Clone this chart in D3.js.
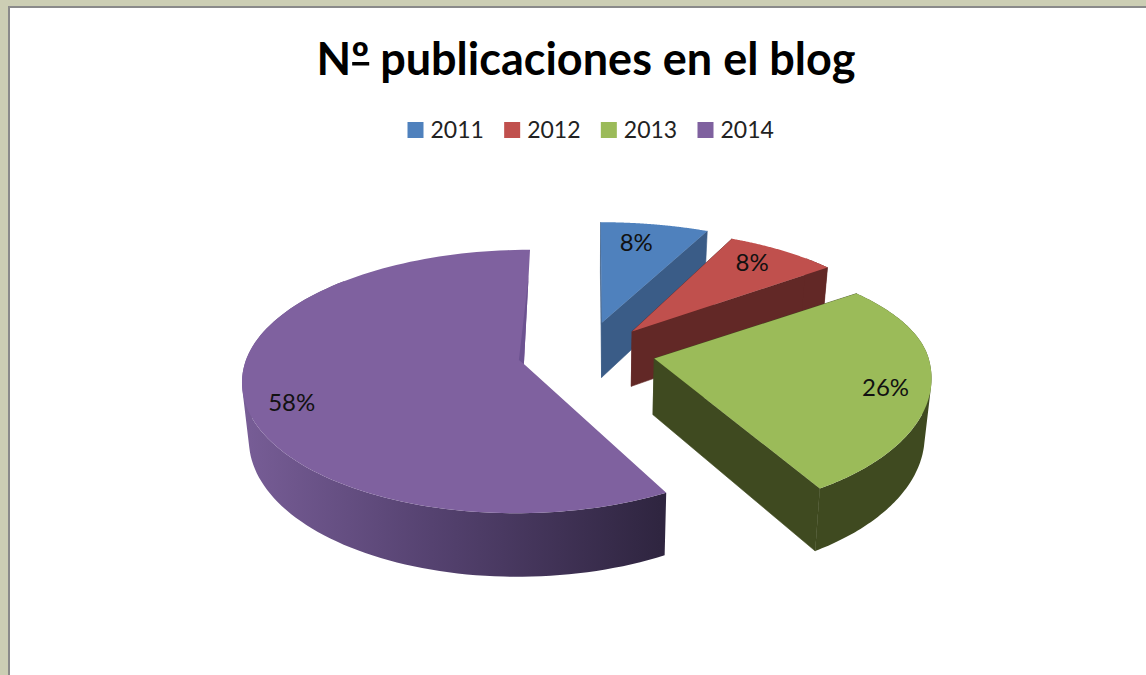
<!DOCTYPE html>
<html>
<head>
<meta charset="utf-8">
<script src="https://cdn.jsdelivr.net/npm/d3@7"></script>
<style>
html, body { margin: 0; padding: 0; background: #ccceb4; overflow: hidden; }
text { font-family: Lato, "Open Sans", sans-serif; }
</style>
</head>
<body>
<script>
//values (angular share of each slice, percent)
var years = ["2011", "2012", "2013", "2014"];
var shares = [7.0, 7.6, 26.7, 58.7];
var percentLabels = ["8%", "8%", "26%", "58%"];
var topColors = ["#4f81bd", "#c0504d", "#9bbb59", "#7f619f"];
var sideColors = ["#3a5c87", "#622826", "#3f4a20", "#33283f"];

//specs of svg
var w = 1146;
var h = 675;

//perspective pie set up
var cx = 590, cy = 360;
var R = 283, flat = 128.7 / 283, persp = 0.11;
var rimHeight = 56, rimShrink = 0.98;
var explode = 0.23;
//small corrections of each exploded slice, the original is not a true circle
var nudgeX = [-2, 2, 0, -3];
var nudgeY = [-9, -6, -7, -4];
var radiusX = [0.985, 0.95, 0.965, 0.98];
var radiusBack = [0.9, 0.9, 0.87, 0.97];
var radiusFront = [1, 1, 1.055, 1.015];
var startTrim = [0, 0, 0, 0.044];
var labelRadius = [0.72, 0.78, 0.81, 0.82];
var labelShift = [-5, -5, 0, 0];
var labelDrop = [8, 10, 18, 17];

var svg = d3.select("body").append("svg")
    .attr("width", w)
    .attr("height", h)
    .style("display", "block");

//window frame
svg.append("rect").attr("x", 8).attr("y", 6).attr("width", w).attr("height", h).attr("fill", "#8a8a8a");
svg.append("rect").attr("x", 10).attr("y", 8).attr("width", w).attr("height", h).attr("fill", "#ffffff");

//gradient for the purple rim
var defs = svg.append("defs");
var grad = defs.append("linearGradient").attr("id", "rim2014")
    .attr("gradientUnits", "userSpaceOnUse")
    .attr("x1", 245).attr("x2", 660).attr("y1", 0).attr("y2", 0);
grad.append("stop").attr("offset", "0").attr("stop-color", "#775d96");
grad.append("stop").attr("offset", "0.45").attr("stop-color", "#554270");
grad.append("stop").attr("offset", "1").attr("stop-color", "#2f2540");

//plane point (u right, v toward viewer) to screen, level 0 = top face, 1 = bottom
function project(u, v, level, nx, ny) {
    var k = 1 / (1 - persp * v);
    var s = level ? rimShrink : 1;
    return [
        cx + nx + R * u * k * s,
        cy + ny + R * flat * v * k + (level ? rimHeight * k : 0)
    ];
}

//same turning direction for every rim piece, so they never cancel out
function orient(quad) {
    return d3.polygonArea(quad) < 0 ? quad.slice().reverse() : quad;
}

var pie = d3.pie().sort(null).value(function(d) { return d; });
var arcs = pie(shares);
var line = d3.line();

//draws one slice, back ones first
arcs.forEach(function(a, i) {
    var mid = (a.startAngle + a.endAngle) / 2;
    var ou = explode * Math.sin(mid), ov = -explode * Math.cos(mid);
    var nx = nudgeX[i], ny = nudgeY[i];
    var a0 = a.startAngle + startTrim[i];
    var g = svg.append("g");

    function edge(t, r, level) {
        var c = -Math.cos(t);
        var ry = c < 0 ? radiusBack[i] : radiusFront[i];
        return project(ou + r * radiusX[i] * Math.sin(t), ov + r * ry * c, level, nx, ny);
    }

    var steps = d3.range(0, 121).map(function(j) {
        return a0 + (a.endAngle - a0) * j / 120;
    });
    var topEdge = steps.map(function(t) { return edge(t, 1, 0); });

    //the two cut faces, those of the big slice stay hidden
    if (i != 3) {
        [a0, a.endAngle].forEach(function(t) {
            var quad = [edge(t, 0, 0), edge(t, 1, 0), edge(t, 1, 1), edge(t, 0, 1)];
            g.append("path")
                .attr("d", line(quad) + "Z")
                .attr("fill", sideColors[i])
                .attr("stroke", sideColors[i])
                .attr("stroke-width", 0.6);
        });
    }

    //outer rim, only the part turned to the viewer
    var rimPath = "";
    for (var j = 0; j < steps.length - 1; j++) {
        if (-Math.cos(steps[j]) < -0.7) continue;
        var quad = [edge(steps[j], 1, 0), edge(steps[j + 1], 1, 0), edge(steps[j + 1], 1, 1), edge(steps[j], 1, 1)];
        rimPath += line(orient(quad)) + "Z";
    }
    g.append("path")
        .attr("d", rimPath)
        .attr("fill", i == 3 ? "url(#rim2014)" : sideColors[i]);

    //top face
    g.append("path")
        .attr("d", line([edge(0, 0, 0)].concat(topEdge)) + "Z")
        .attr("fill", topColors[i]);

    //thin shaded sliver where the big slice turns inward
    if (i == 3) {
        var apex = edge(a.endAngle, 0, 0);
        g.append("path")
            .attr("d", line([apex, [apex[0] - 5, apex[1] - 4], edge(a.endAngle, 0.75, 0)]) + "Z")
            .attr("fill", "#6c5290");
    }
});

//percent labels go above all slices
arcs.forEach(function(a, i) {
    var mid = (a.startAngle + a.endAngle) / 2;
    var ou = explode * Math.sin(mid), ov = -explode * Math.cos(mid);
    var p = project(ou + labelRadius[i] * Math.sin(mid), ov - labelRadius[i] * Math.cos(mid), 0, nudgeX[i], nudgeY[i]);
    svg.append("text")
        .attr("x", p[0] + labelShift[i]).attr("y", p[1] + labelDrop[i])
        .attr("text-anchor", "middle")
        .attr("font-size", 24)
        .attr("fill", "#111111")
        .text(percentLabels[i]);
});

//title
var title = svg.append("text")
    .attr("x", 586).attr("y", 75)
    .attr("text-anchor", "middle")
    .attr("font-size", 45)
    .attr("font-weight", "bold")
    .attr("fill", "#000000")
    .text("Nº publicaciones en el blog");

//the ordinal sign has a bar under it in the original font
var ordStart = title.node().getStartPositionOfChar(1);
var ordEnd = title.node().getEndPositionOfChar(1);
svg.append("rect")
    .attr("x", ordStart.x + 1).attr("y", 62)
    .attr("width", ordEnd.x - ordStart.x - 1).attr("height", 3.5)
    .attr("fill", "#000000");

//legend
var legendX = d3.scalePoint().domain(years).range([407.5, 697.5]);
years.forEach(function(y, i) {
    var lx = legendX(y);
    svg.append("rect")
        .attr("x", lx).attr("y", 122)
        .attr("width", 16).attr("height", 16)
        .attr("fill", topColors[i]);
    svg.append("text")
        .attr("x", lx + 23).attr("y", 138)
        .attr("font-size", 23)
        .attr("fill", "#222222")
        .text(y);
});
</script>
</body>
</html>
